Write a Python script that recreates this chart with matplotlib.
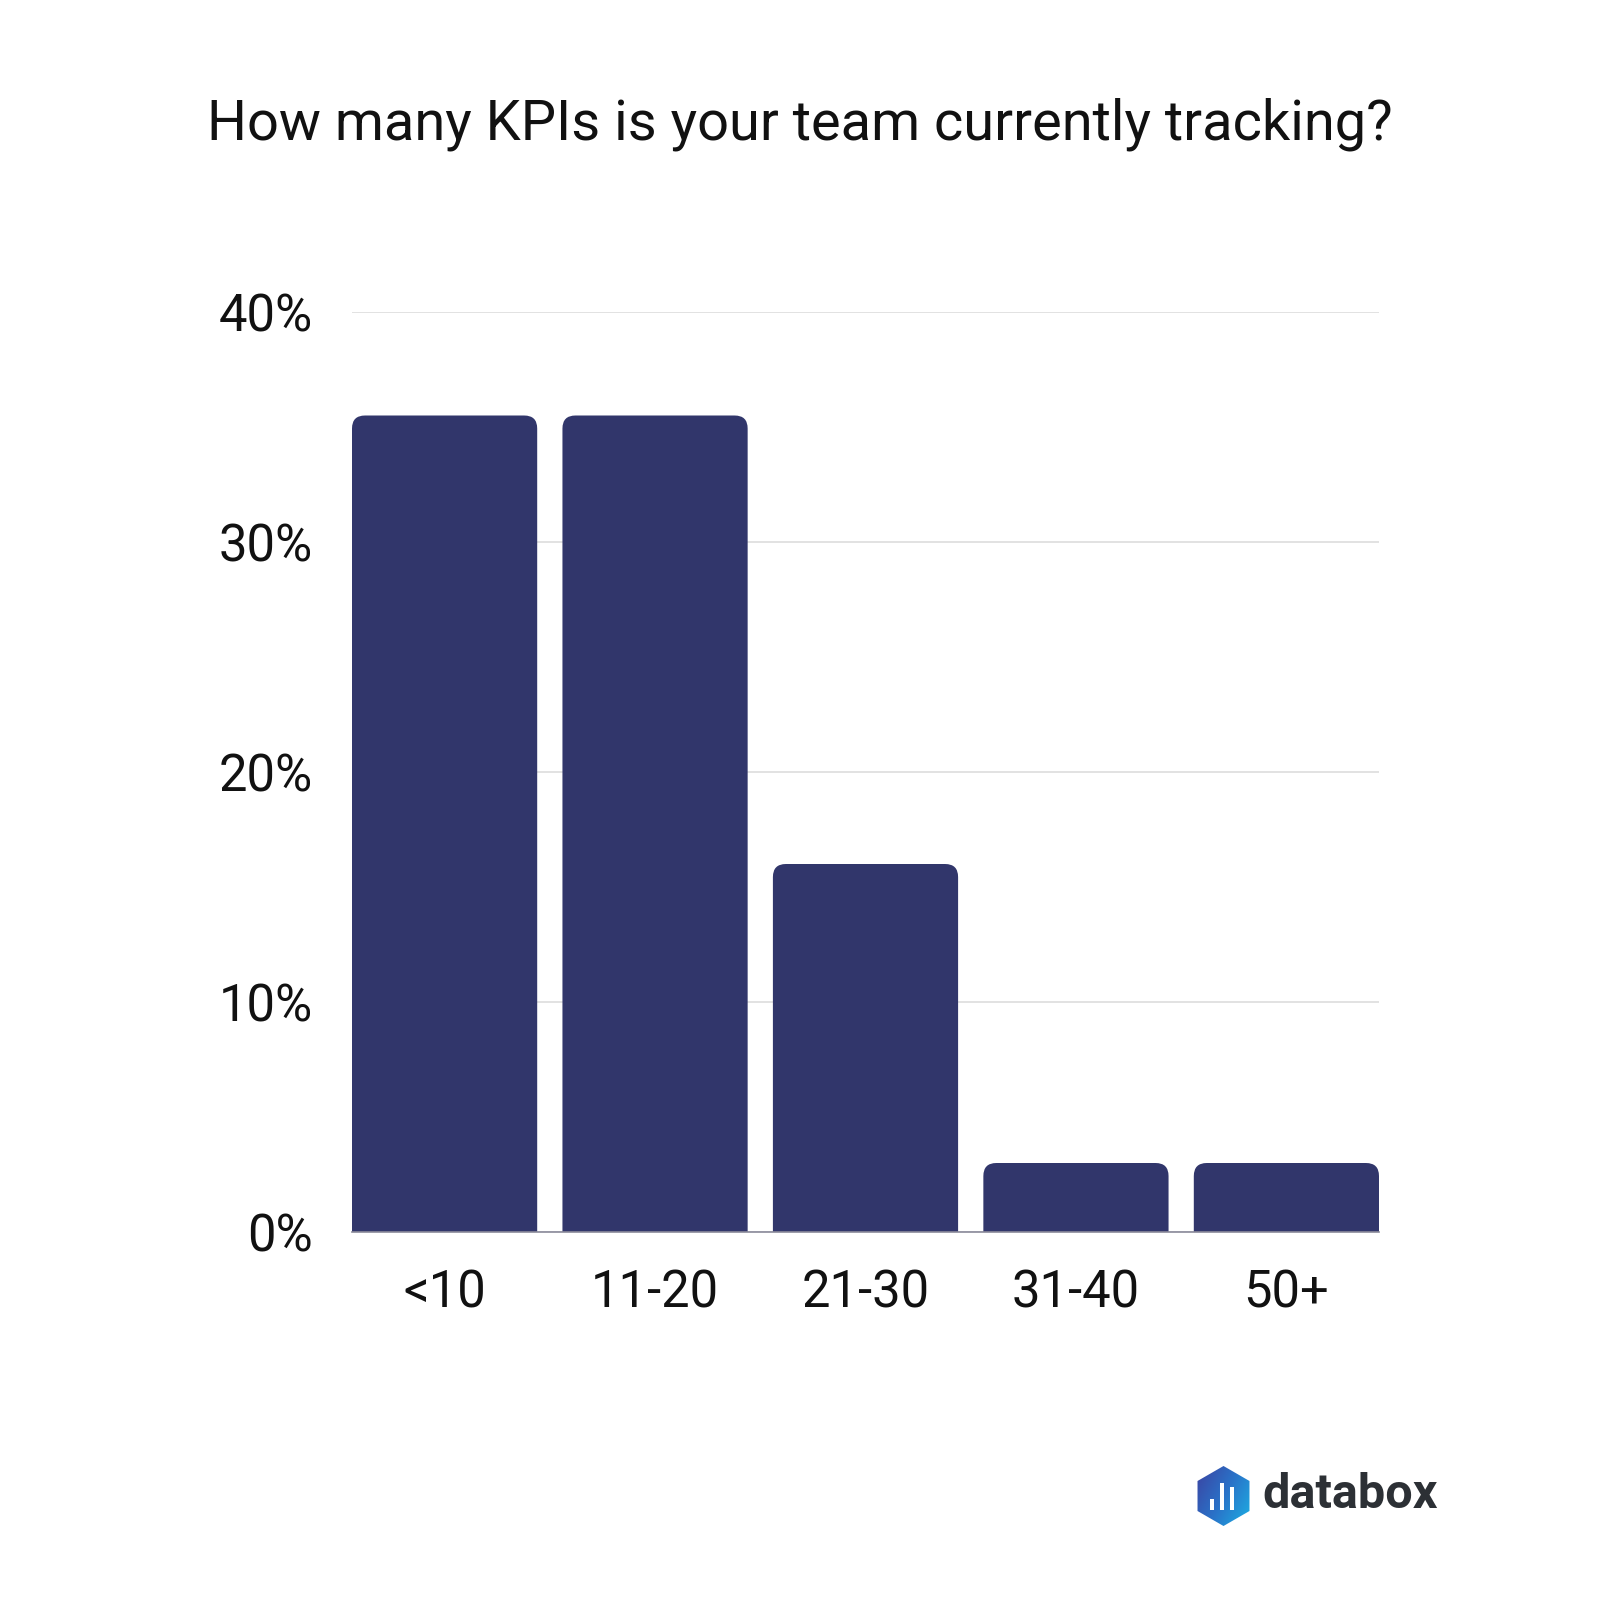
import numpy as np
import matplotlib
matplotlib.use("Agg")
import matplotlib.pyplot as plt
from matplotlib.patches import FancyBboxPatch, Polygon, Rectangle
from matplotlib.ticker import FuncFormatter

plt.rcParams['font.family'] = ['Roboto', 'DejaVu Sans']

#-------------------------------------------------
# Data
#-------------------------------------------------
categories = ["<10", "11-20", "21-30", "31-40", "50+"]
shares = [35.5, 35.5, 16.0, 3.0, 3.0]
y_ticks = [0, 10, 20, 30, 40]
title = "How many KPIs is your team currently tracking?"

bar_color = "#31366b"
W = H = 1600

fig = plt.figure(figsize=(16, 16), dpi=100)
fig.patch.set_facecolor("white")

# plot area in pixels: x 352..1379, y 312..1232
ax = fig.add_axes([352 / W, 1 - 1232 / H, (1379 - 352) / W, (1232 - 312) / H])

bar_w = 0.88
x = np.arange(len(categories))
ax.set_xlim(-bar_w / 2, len(categories) - 1 + bar_w / 2)
ax.set_ylim(0, 40)

# rounded top corners, bottom hidden below the axis
px_per_x = (1379 - 352) / (len(categories) - 1 + bar_w)
px_per_y = (1232 - 312) / 40
r_px = 13
rx = r_px / px_per_x
ry = r_px / px_per_y
for xi, v in zip(x, shares):
    p = FancyBboxPatch((xi - bar_w / 2, -ry * 2), bar_w, v + ry * 2,
                       boxstyle=f"round,pad=0,rounding_size={rx}",
                       mutation_aspect=ry / rx,
                       facecolor=bar_color, edgecolor="none", zorder=3)
    ax.add_patch(p)

ax.set_yticks(y_ticks)
ax.yaxis.set_major_formatter(FuncFormatter(lambda v, _: f"{int(v)}%"))
ax.set_xticks(x)
ax.set_xticklabels(categories)
ax.tick_params(axis="both", length=0, labelsize=36.5, colors="#111111")
ax.tick_params(axis="y", pad=28)
ax.tick_params(axis="x", pad=26)

ax.grid(axis="y", color="#dddddd", linewidth=1.2, zorder=0)
for s in ["top", "right", "left"]:
    ax.spines[s].set_visible(False)
ax.spines["bottom"].set_color("#8a8a9a")
ax.spines["bottom"].set_linewidth(1.2)
ax.spines["bottom"].set_zorder(4)

fig.text(0.5, 1 - 124 / H, title, ha="center", va="center",
         fontsize=40.3, color="#111111")

#-------------------------------------------------
# databox logo
#-------------------------------------------------
lx0, lx1, ly0, ly1 = 1185, 1260, 1458, 1534
lax = fig.add_axes([lx0 / W, 1 - ly1 / H, (lx1 - lx0) / W, (ly1 - ly0) / H])
lax.set_xlim(lx0, lx1)
lax.set_ylim(ly1, ly0)
lax.axis("off")

cx, cy, R = 1223.5, 1496, 30
ang = np.deg2rad(np.arange(6) * 60 + 90)
hexagon = Polygon(np.c_[cx + R * np.cos(ang), cy + R * np.sin(ang)],
                  closed=True, facecolor="none", edgecolor="none")
lax.add_patch(hexagon)
gx, gy = np.meshgrid(np.linspace(0, 1, 100), np.linspace(0, 1, 100))
grad = 0.65 * gx + 0.35 * gy
cmap = matplotlib.colors.LinearSegmentedColormap.from_list(
    "db", ["#3d3f9e", "#2a72c8", "#1bb6e6"])
im = lax.imshow(grad, extent=(cx - R, cx + R, cy + R, cy - R), cmap=cmap,
                interpolation="bilinear", zorder=1)
im.set_clip_path(hexagon)

for bx, top in zip([1212, 1222, 1232], [1499, 1483, 1487]):
    lax.add_patch(Rectangle((bx - 2.2, top), 4.4, 1510 - top,
                            facecolor="white", edgecolor="none", zorder=2))

fig.text(1262 / W, 1 - 1508 / H, "databox", ha="left", va="baseline",
         fontsize=35, fontweight="bold", color="#2c3035")

fig.savefig("out.png", dpi=100, facecolor="white")
